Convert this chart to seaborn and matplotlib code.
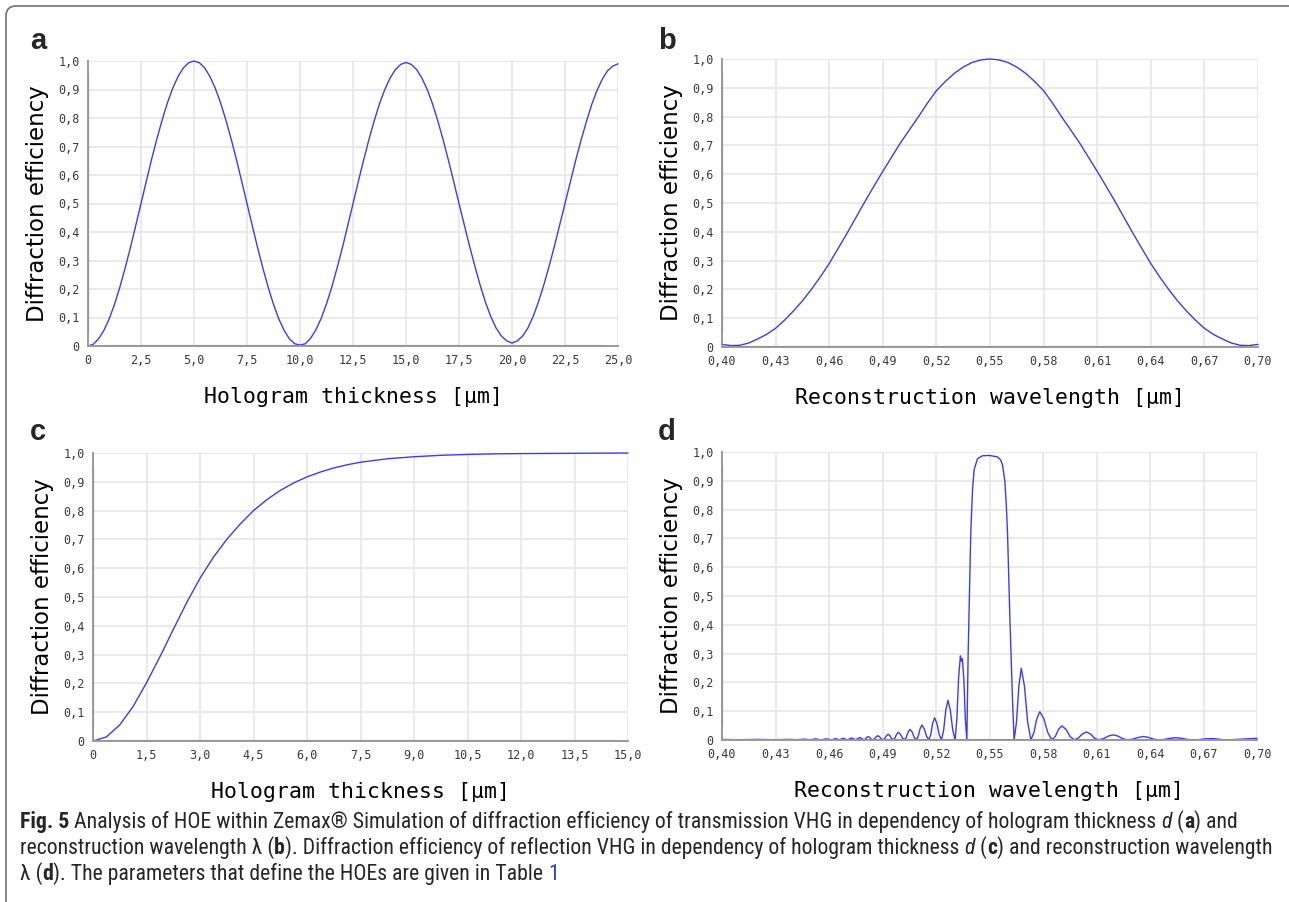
import numpy as np
import matplotlib
matplotlib.use("Agg")
import matplotlib.pyplot as plt
import seaborn as sns
from matplotlib.patches import FancyBboxPatch
from matplotlib.transforms import IdentityTransform

# --- DATA ---
# a) transmission VHG, efficiency vs hologram thickness [um]
a_thickness = np.arange(0, 25.01, 0.25)
a_eff = [0.0, 0.006, 0.025, 0.055, 0.095, 0.146, 0.206, 0.273, 0.345, 0.422, 0.500,
         0.578, 0.655, 0.727, 0.794, 0.854, 0.905, 0.946, 0.976, 0.994, 1.0,
         0.994, 0.976, 0.946, 0.905, 0.854, 0.794, 0.727, 0.655, 0.578, 0.500,
         0.422, 0.345, 0.273, 0.206, 0.146, 0.095, 0.055, 0.025, 0.008, 0.003,
         0.008, 0.027, 0.057, 0.097, 0.148, 0.207, 0.274, 0.345, 0.422, 0.499,
         0.577, 0.652, 0.724, 0.790, 0.850, 0.900, 0.940, 0.970, 0.988, 0.995,
         0.988, 0.970, 0.940, 0.900, 0.850, 0.790, 0.724, 0.652, 0.577, 0.500,
         0.425, 0.350, 0.280, 0.213, 0.153, 0.103, 0.063, 0.035, 0.018, 0.010,
         0.018, 0.035, 0.063, 0.104, 0.155, 0.214, 0.280, 0.350, 0.425, 0.500,
         0.575, 0.650, 0.720, 0.785, 0.845, 0.895, 0.935, 0.965, 0.982, 0.990]

# b) transmission VHG, efficiency vs reconstruction wavelength [um]
b_wavelength = np.round(np.arange(0.40, 0.7001, 0.005), 3)
b_eff = [0.009, 0.005, 0.006, 0.014, 0.028, 0.044, 0.065, 0.093, 0.125, 0.160,
         0.200, 0.243, 0.290, 0.342, 0.395, 0.450, 0.505, 0.558, 0.610, 0.660,
         0.710, 0.755, 0.800, 0.847, 0.890, 0.922, 0.950, 0.972, 0.988, 0.997,
         1.000,
         0.997, 0.988, 0.972, 0.950, 0.922, 0.890, 0.847, 0.800, 0.755, 0.710,
         0.660, 0.610, 0.558, 0.505, 0.450, 0.395, 0.342, 0.290, 0.243, 0.200,
         0.160, 0.125, 0.093, 0.065, 0.044, 0.028, 0.014, 0.006, 0.005, 0.009]

# c) reflection VHG, efficiency vs hologram thickness [um]
c_thickness = [0, 0.375, 0.75, 1.125, 1.5, 1.875, 2.25, 2.625, 3.0, 3.375, 3.75,
               4.125, 4.5, 4.875, 5.25, 5.625, 6.0, 6.375, 6.75, 7.125, 7.5,
               8.25, 9.0, 9.75, 10.5, 11.25, 12.0, 13.5, 15.0]
c_eff = [0.0, 0.014, 0.056, 0.120, 0.202, 0.292, 0.387, 0.480, 0.565, 0.638, 0.700,
         0.753, 0.800, 0.838, 0.870, 0.896, 0.917, 0.934, 0.948, 0.959, 0.968,
         0.980, 0.987, 0.992, 0.995, 0.997, 0.998, 0.999, 1.0]

# d) reflection VHG, efficiency vs reconstruction wavelength [um]
d_wavelength = [
    0.400, 0.410, 0.420, 0.430, 0.437, 0.442, 0.446, 0.4495, 0.4525, 0.4555,
    0.4585, 0.4615, 0.4637, 0.4658, 0.4680, 0.4703, 0.4726, 0.4749, 0.4773,
    0.4795, 0.48033, 0.48117, 0.4820, 0.48283, 0.48367,
    0.4845, 0.48547, 0.48643, 0.4874, 0.48837, 0.48933,
    0.4903, 0.49127, 0.49223, 0.4932, 0.49413, 0.49507,
    0.4960, 0.49697, 0.49793, 0.4989, 0.50003, 0.50117,
    0.5023, 0.50333, 0.50437, 0.5054, 0.5066, 0.5078,
    0.5090, 0.51003, 0.51107, 0.5121, 0.5134, 0.5147,
    0.5160, 0.51707, 0.51813, 0.5192, 0.5205, 0.5218,
    0.5231, 0.5243, 0.5255, 0.5267, 0.52803, 0.52937,
    0.5307, 0.5317, 0.5327, 0.5337, 0.5342, 0.5348, 0.53563, 0.53647,
    0.5373, 0.5380, 0.5388, 0.5395, 0.5405, 0.5414, 0.5433, 0.5461, 0.5500,
    0.5545, 0.5563, 0.5573, 0.5586, 0.5594, 0.5601, 0.5614, 0.5629,
    0.5638, 0.56513, 0.56647, 0.5678, 0.5696, 0.5714,
    0.5732, 0.57487, 0.57653, 0.5782, 0.58047, 0.58273,
    0.5850, 0.58687, 0.58873, 0.5906, 0.5929, 0.5952,
    0.5975, 0.5998, 0.6021, 0.6044, 0.6066, 0.6088,
    0.6110, 0.6138, 0.6166, 0.6194, 0.62207, 0.62473,
    0.6274, 0.6304, 0.6334, 0.6364, 0.6392, 0.6420,
    0.6448, 0.64803, 0.65127, 0.6545, 0.65763, 0.66077,
    0.6639, 0.66733, 0.67077, 0.6742, 0.67733, 0.68047,
    0.6835, 0.6920, 0.7000]
d_eff = [
    0.002, 0.001, 0.002, 0.001, 0.002, 0.001, 0.003, 0.0005, 0.004, 0.0005,
    0.004, 0.0005, 0.005, 0.0005, 0.006, 0.0005, 0.007, 0.0005, 0.009,
    0.0005, 0.003, 0.009, 0.012, 0.009, 0.003,
    0.0005, 0.004, 0.011, 0.015, 0.011, 0.004,
    0.0005, 0.005, 0.015, 0.020, 0.015, 0.005,
    0.0005, 0.007, 0.020, 0.027, 0.020, 0.007,
    0.0005, 0.009, 0.028, 0.037, 0.028, 0.009,
    0.0005, 0.013, 0.039, 0.052, 0.039, 0.013,
    0.0005, 0.019, 0.058, 0.077, 0.058, 0.019,
    0.0005, 0.035, 0.104, 0.138, 0.104, 0.035,
    0.0005, 0.073, 0.219, 0.292, 0.274, 0.282, 0.210, 0.070,
    0.0005, 0.290, 0.520, 0.720, 0.870, 0.940, 0.977, 0.987, 0.988,
    0.983, 0.972, 0.955, 0.900, 0.820, 0.720, 0.430, 0.140,
    0.0005, 0.062, 0.187, 0.249, 0.187, 0.062,
    0.0005, 0.025, 0.074, 0.098, 0.074, 0.025,
    0.0005, 0.012, 0.037, 0.049, 0.037, 0.012,
    0.0005, 0.007, 0.021, 0.028, 0.021, 0.007,
    0.0005, 0.0045, 0.0135, 0.018, 0.0135, 0.0045,
    0.0005, 0.003, 0.009, 0.012, 0.009, 0.003,
    0.0005, 0.002, 0.006, 0.008, 0.006, 0.002,
    0.0005, 0.0013, 0.0038, 0.005, 0.0038, 0.0013,
    0.0005, 0.003, 0.006]

# ticks
eff_ticks = [0, 0.1, 0.2, 0.3, 0.4, 0.5, 0.6, 0.7, 0.8, 0.9, 1.0]
eff_ticklabels = ["0", "0,1", "0,2", "0,3", "0,4", "0,5", "0,6", "0,7", "0,8", "0,9", "1,0"]
a_ticks = [0, 2.5, 5.0, 7.5, 10.0, 12.5, 15.0, 17.5, 20.0, 22.5, 25.0]
a_ticklabels = ["0", "2,5", "5,0", "7,5", "10,0", "12,5", "15,0", "17,5", "20,0", "22,5", "25,0"]
c_ticks = [0, 1.5, 3.0, 4.5, 6.0, 7.5, 9.0, 10.5, 12.0, 13.5, 15.0]
c_ticklabels = ["0", "1,5", "3,0", "4,5", "6,0", "7,5", "9,0", "10,5", "12,0", "13,5", "15,0"]
wl_ticks = [0.40, 0.43, 0.46, 0.49, 0.52, 0.55, 0.58, 0.61, 0.64, 0.67, 0.70]
wl_ticklabels = ["0,40", "0,43", "0,46", "0,49", "0,52", "0,55", "0,58", "0,61", "0,64", "0,67", "0,70"]

# --- STYLE ---
W, H = 1289, 902
CURVE = "#3b3bf7"
GRID = "#e6e6e6"
TICK_TXT = "#3a3a3a"
AXIS_GRAY = "#9a9a9a"

sns.set_style("white")
plt.rcParams["font.family"] = ["DejaVu Sans"]

fig = plt.figure(figsize=(W / 100, H / 100), dpi=100)


def px_rect(l, t, r, b):
    return [l / W, 1 - b / H, (r - l) / W, (b - t) / H]


def draw_panel(rect, x, y, xlim, xticks, xticklabels, xlabel):
    ax = fig.add_axes(rect)
    sns.lineplot(x=x, y=y, ax=ax, color=CURVE, linewidth=1.0, estimator=None, sort=False)
    ax.lines[-1].set_clip_on(False)
    ax.set_xlim(*xlim)
    ax.set_ylim(0, 1.0)
    ax.set_xticks(xticks)
    ax.set_xticklabels(xticklabels, fontfamily="DejaVu Sans Mono", fontsize=8.5, color=TICK_TXT)
    ax.set_yticks(eff_ticks)
    ax.set_yticklabels(eff_ticklabels, fontfamily="DejaVu Sans Mono", fontsize=8.5, color=TICK_TXT)
    ax.tick_params(axis="both", length=3, width=0.8, color=AXIS_GRAY, pad=3)
    ax.grid(True, color=GRID, linewidth=1.2)
    ax.set_axisbelow(True)
    for s in ["top", "right"]:
        ax.spines[s].set_visible(False)
    for s in ["left", "bottom"]:
        ax.spines[s].set_color(AXIS_GRAY)
        ax.spines[s].set_linewidth(1.4)
    # darker inner part of the axis lines, as in the Zemax plot
    ax.axvline(xlim[0], ymin=0.05, ymax=0.95, color="black", linewidth=1.5)
    ax.axhline(0, xmin=0.03, xmax=0.975, color="#111111", linewidth=2.2)
    ax.set_xlabel(xlabel, fontfamily="DejaVu Sans Mono", fontsize=15.5, color="black", labelpad=14)
    ax.set_ylabel("Diffraction efficiency", fontsize=16.5, color="black", labelpad=7)
    return ax


draw_panel(px_rect(88, 61, 618, 346), a_thickness, a_eff, (0, 25),
           a_ticks, a_ticklabels, "Hologram thickness [µm]")
draw_panel(px_rect(722, 59, 1258, 347), b_wavelength, b_eff, (0.40, 0.70),
           wl_ticks, wl_ticklabels, "Reconstruction wavelength [µm]")
draw_panel(px_rect(93, 453, 628, 741), c_thickness, c_eff, (0, 15),
           c_ticks, c_ticklabels, "Hologram thickness [µm]")
draw_panel(px_rect(722, 452, 1257, 740), d_wavelength, d_eff, (0.40, 0.70),
           wl_ticks, wl_ticklabels, "Reconstruction wavelength [µm]")

# panel letters
for letter, (lx, ly) in zip("abcd", [(38, 41), (667, 41), (38, 432), (667, 432)]):
    fig.text(lx / W, 1 - ly / H, letter, fontsize=21, fontweight="bold",
             family=["Liberation Sans", "DejaVu Sans"], ha="center", va="center")

# outer frame of the figure page
frame = FancyBboxPatch((6, -40), W + 60, H - 6 + 40, boxstyle="round,pad=0,rounding_size=10",
                       transform=IdentityTransform(), facecolor="none",
                       edgecolor="#6e6e6e", linewidth=1.2)
fig.add_artist(frame)

# --- caption ---
CAP_FONT = ["Liberation Sans Narrow", "Roboto Condensed", "Liberation Sans", "DejaVu Sans"]
renderer = fig.canvas.get_renderer()
N = {}
B = {"fontweight": "bold"}
I = {"fontstyle": "italic"}
BLUE = {"color": "#2a3fd6"}

cap_lines = [
    [("Fig. 5", B),
     (" Analysis of HOE within Zemax® Simulation of diffraction efficiency of transmission "
      "VHG in dependency of hologram thickness ", N),
     ("d", I), (" (", N), ("a", B), (") and", N)],
    [("reconstruction wavelength λ (", N), ("b", B),
     ("). Diffraction efficiency of reflection VHG in dependency of hologram thickness ", N),
     ("d", I), (" (", N), ("c", B), (") and reconstruction wavelength", N)],
    [("λ (", N), ("d", B), ("). The parameters that define the HOEs are given in Table ", N),
     ("1", BLUE)],
]


def text_width(s, size, props):
    t1 = fig.text(0, 0, "|" + s + "|", fontsize=size, family=CAP_FONT, **props)
    t2 = fig.text(0, 0, "||", fontsize=size, family=CAP_FONT, **props)
    w = t1.get_window_extent(renderer).width - t2.get_window_extent(renderer).width
    t1.remove()
    t2.remove()
    return w


# fit the second (longest) line to the width it has in the reference
base = 10
w2 = sum(text_width(s, base, p) for s, p in cap_lines[1])
cap_size = base * 1250 / w2

for line, y_px in zip(cap_lines, [822, 848, 874]):
    x = 20
    for s, p in line:
        fig.text(x / W, 1 - y_px / H, s, fontsize=cap_size, family=CAP_FONT,
                 ha="left", va="center", **p)
        x += text_width(s, cap_size, p)

fig.savefig("out.png", dpi=100, facecolor="white")
